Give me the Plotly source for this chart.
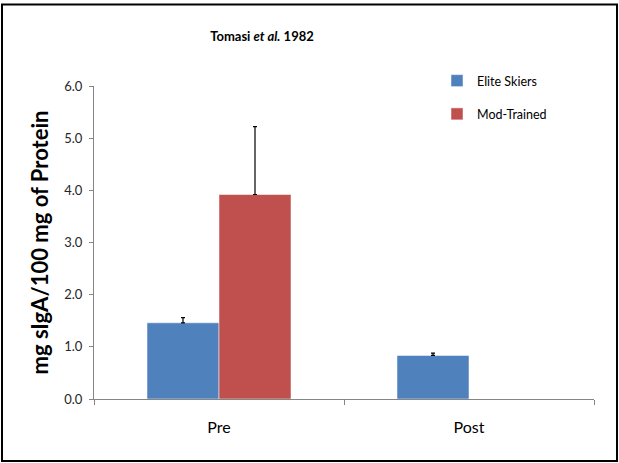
import plotly.graph_objects as go

categories = ["Pre", "Post"]
elite_values = [1.46, 0.835]
elite_err = [0.10, 0.045]
mod_values = [3.92, None]
mod_err = [1.30, 0]
y_ticks = [0, 1, 2, 3, 4, 5, 6]
y_tick_labels = ["0.0", "1.0", "2.0", "3.0", "4.0", "5.0", "6.0"]

FONT = "Lato"
W, H = 619, 463
L, R, T, B = 94, 25, 86, 64
pw, ph = W - L - R, H - T - B

fig = go.Figure()
fig.add_trace(go.Bar(
    name="Elite Skiers", x=categories, y=elite_values,
    marker=dict(color="#4F81BD", line=dict(color="#FFFFFF", width=0.5)),
    error_y=dict(type="data", array=elite_err, arrayminus=[0, 0],
                 color="#000000", thickness=1.2, width=2),
    legendgroup="a",
))
fig.add_trace(go.Bar(
    name="Mod-Trained", x=categories, y=mod_values,
    marker=dict(color="#C0504D", line=dict(color="#FFFFFF", width=0.5)),
    error_y=dict(type="data", array=mod_err, arrayminus=[0, 0],
                 color="#000000", thickness=1.2, width=2),
    legendgroup="b",
))

# outer frame
fig.add_shape(type="rect", xref="paper", yref="paper",
              x0=(2 - L) / pw, x1=(617 - L) / pw,
              y0=(H - B - 461) / ph, y1=(H - B - 4.5) / ph,
              line=dict(color="#000000", width=2), layer="above")

fig.update_layout(
    width=W, height=H,
    margin=dict(l=L, r=R, t=T, b=B),
    paper_bgcolor="white", plot_bgcolor="white",
    barmode="group", bargap=0.424, bargroupgap=0,
    font=dict(family=FONT, color="#262626"),
    title=dict(text="<b>Tomasi <i>et al.</i> 1982</b>", x=262 / W, xref="container",
               xanchor="center",
               y=1 - 36 / H, yref="container", yanchor="middle",
               font=dict(size=13, color="#000000", family=FONT)),
    legend=dict(x=(437 - L) / pw, y=(H - B - 66) / ph, xanchor="left", yanchor="top",
                font=dict(size=12.5, color="#000000", family=FONT),
                tracegroupgap=14, bgcolor="rgba(0,0,0,0)",
                itemwidth=30),
    xaxis=dict(showline=True, linecolor="#868686", linewidth=1,
               ticks="outside", tickson="boundaries", ticklen=5, tickcolor="#868686",
               tickfont=dict(size=16, color="#000000"), ticklabelstandoff=14,
               showgrid=False, zeroline=False),
    yaxis=dict(range=[0, 6], tickvals=y_ticks, ticktext=y_tick_labels,
               showline=True, linecolor="#868686", linewidth=1,
               ticks="outside", ticklen=4, tickcolor="#868686",
               tickfont=dict(size=13, color="#262626"), ticklabelstandoff=4,
               showgrid=False, zeroline=False,
               title=dict(text="<b>mg sIgA/100 mg of Protein</b>", standoff=9,
                          font=dict(size=22, color="#000000", family=FONT))),
)

fig.write_html("out.html", config={"displayModeBar": False},
               post_script="document.body.style.margin='0';")
